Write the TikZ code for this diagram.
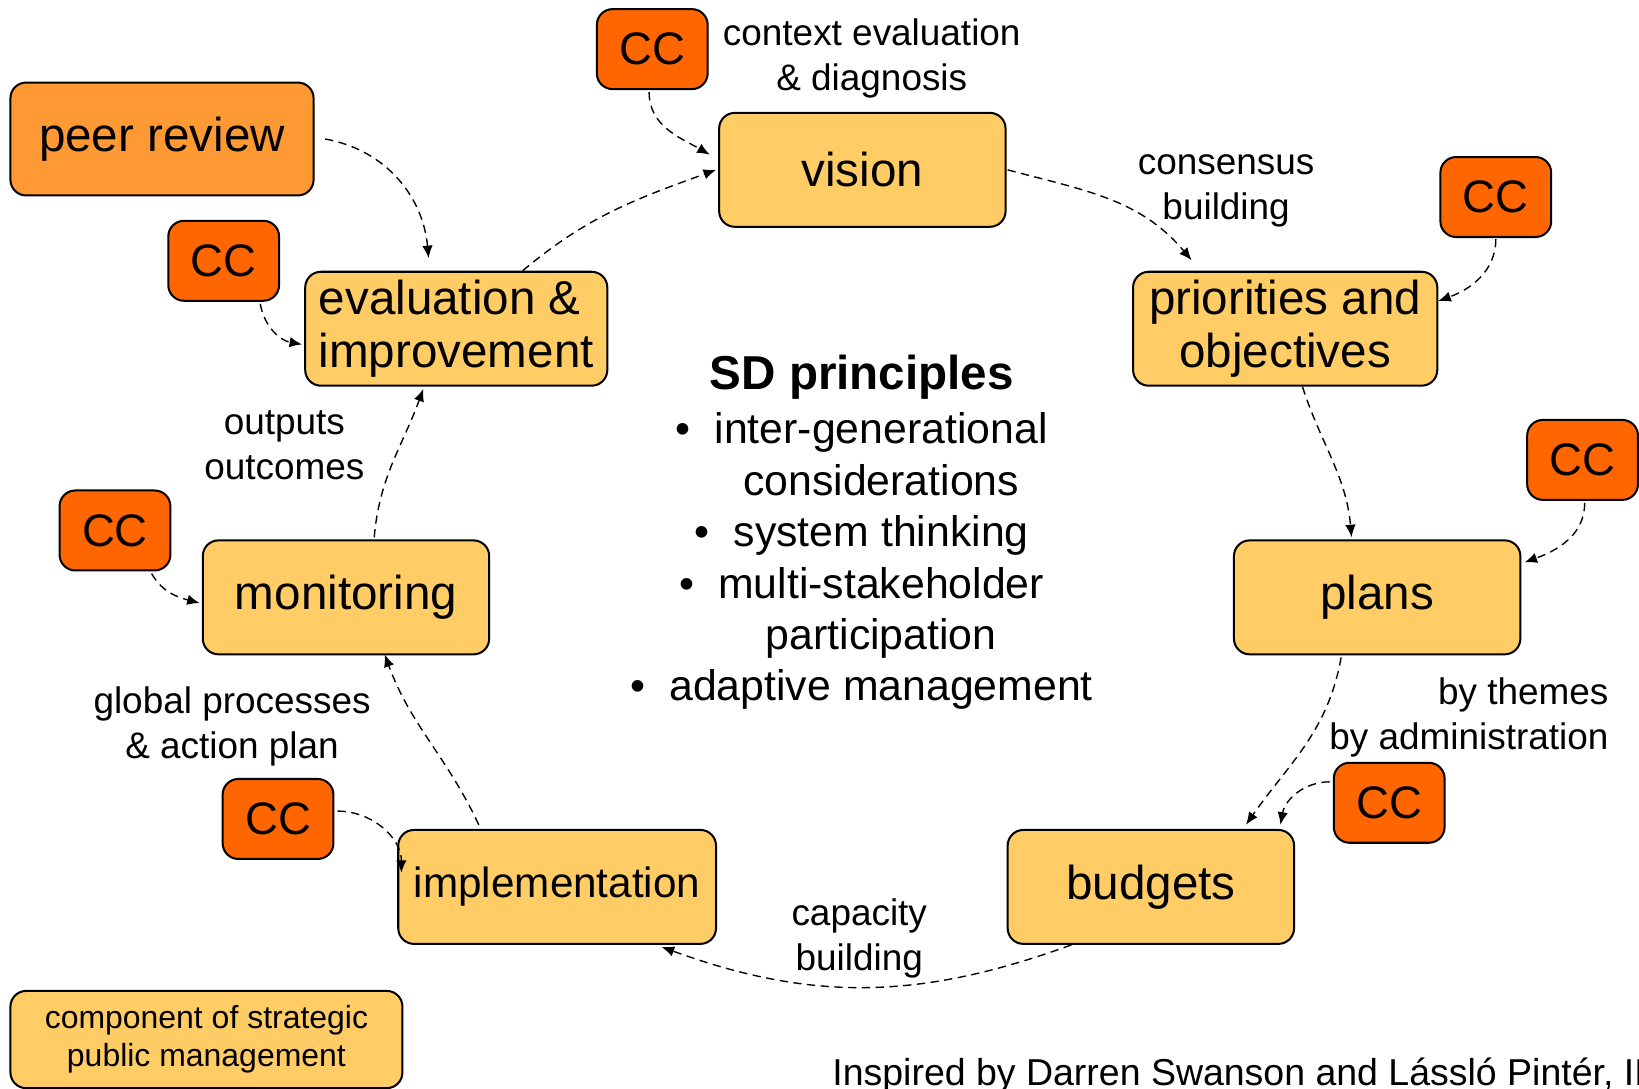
\documentclass[tikz,border=0pt]{standalone}
\usepackage{fontspec}
\setmainfont{Liberation Sans}
\usetikzlibrary{arrows.meta}

\definecolor{boxfill}{HTML}{FFCC66}
\definecolor{ccfill}{HTML}{FF6600}
\definecolor{peerfill}{HTML}{FF9933}

\begin{document}
\begin{tikzpicture}[
  block/.style = {
    draw,
    shape=rectangle,
    rounded corners=0.3cm,
    line width=1.1pt,
    minimum width=5.48cm,
    minimum height=2.18cm,
    inner sep=0.1cm,
    fill=boxfill,
    align=center,
    font=\fontsize{25.9}{28.45}\selectfont
  },
  ccblock/.style = {
    block,
    fill=ccfill,
    minimum width=2.12cm,
    minimum height=1.53cm,
    font=\fontsize{24.8}{28}\selectfont
  },
  remark/.style = {
    align=center,
    font=\fontsize{20.1}{24.5}\selectfont
  },
  link/.style = {
    ->,
    line width=0.75pt,
    dash pattern=on 4.5pt off 3pt
  },
  >={Latex[length=0.24cm,width=0.2cm]}
]
  \useasboundingbox (0,0) rectangle (31.36,20.82);

  \node (vision)[block] at (16.50,17.57) {vision};
  \node (priorities)[
    block,
    minimum width=5.82cm
  ] at (24.59,14.53) {priorities and\\objectives};
  \node (plans)[block] at (26.35,9.39) {plans};
  \node (budgets)[block] at (22.02,3.85) {budgets};
  \node (implementation)[
    block,
    minimum width=6.08cm,
    font=\fontsize{23}{27}\selectfont
  ] at (10.66,3.85) {implementation};
  \node (monitoring)[block] at (6.62,9.39) {monitoring};
  \node (evaluation)[
    block,
    minimum width=5.78cm,
    align=left
  ] at (8.73,14.53) {evaluation \&\\improvement};
  \node (peerreview)[
    block,
    fill=peerfill,
    minimum width=5.80cm,
    minimum height=2.16cm
  ] at (3.10,18.16) {peer review};

  \node (ccvision)[ccblock] at (12.48,19.88) {CC};
  \node (ccpriorities)[ccblock] at (28.62,17.05) {CC};
  \node (ccplans)[ccblock] at (30.28,12.02) {CC};
  \node (ccbudgets)[ccblock] at (26.58,5.46) {CC};
  \node (ccimplementation)[ccblock] at (5.32,5.15) {CC};
  \node (ccmonitoring)[ccblock] at (2.20,10.67) {CC};
  \node (ccevaluation)[ccblock] at (4.28,15.83) {CC};

  \node (legend)[
    block,
    minimum width=7.50cm,
    minimum height=1.86cm,
    font=\fontsize{17.4}{20.5}\selectfont
  ] at (3.95,0.93) {component of strategic\\public management};

  \node (sdtitle)[
    font=\bfseries\fontsize{25.9}{30}\selectfont
  ] at (16.49,13.60) {SD principles};
  \node (sdlist)[
    align=center,
    font=\fontsize{23.3}{28}\selectfont
  ] at (16.86,10.08) {\llap{\textbullet\hspace{0.46cm}}inter-generational\\
    considerations\\
    \llap{\textbullet\hspace{0.46cm}}system thinking\\
    \llap{\textbullet\hspace{0.46cm}}multi-stakeholder\\
    participation\\
    \llap{\textbullet\hspace{0.46cm}}adaptive management};

  \node (context)[remark] at (16.68,19.70) {context evaluation\\\& diagnosis};
  \node (consensus)[remark] at (23.46,17.16) {consensus\\building};
  \node (themes)[
    remark,
    align=right,
    anchor=east
  ] at (30.90,7.10) {by themes\\by administration};
  \node (capacity)[remark] at (16.44,2.86) {capacity\\building};
  \node (global)[remark] at (4.44,6.92) {global processes\\\& action plan};
  \node (outputs)[remark] at (5.44,12.30) {outputs\\outcomes};
  \node (inspired)[
    remark,
    anchor=base west,
    inner sep=0pt,
    font=\fontsize{20.4}{24.5}\selectfont
  ] at (15.92,0.06) {Inspired by Darren Swanson and Lássló Pintér, II};

  % main cycle
  \draw[link] ([xshift=0.02cm]vision.east) to[out=-15,in=130] ([xshift=-1.79cm,yshift=0.2cm]priorities.north);
  \draw[link] ([xshift=0.33cm]priorities.south) to[out=-72,in=95] ([xshift=-0.49cm,yshift=0.04cm]plans.north);
  \draw[link] ([xshift=-0.69cm,yshift=-0.04cm]plans.south) to[out=-100,in=55] ([xshift=1.82cm,yshift=0.08cm]budgets.north);
  \draw[link] ([xshift=-1.52cm]budgets.south) to[out=-160,in=-20] ([xshift=2.0cm,yshift=-0.04cm]implementation.south);
  \draw[link] ([xshift=-1.5cm,yshift=0.08cm]implementation.north) to[out=115,in=-70] ([xshift=0.74cm,yshift=0.02cm]monitoring.south);
  \draw[link] ([xshift=0.54cm,yshift=0.04cm]monitoring.north) to[out=85,in=-110] ([xshift=-0.63cm,yshift=-0.04cm]evaluation.south);
  \draw[link] ([xshift=1.27cm]evaluation.north) to[out=40,in=200] ([xshift=-0.04cm]vision.west);
  \draw[link] ([xshift=0.2cm]peerreview.east) to[out=-10,in=95] ([xshift=-0.53cm,yshift=0.24cm]evaluation.north);

  % CC inputs
  \draw[link] ([xshift=-0.06cm,yshift=-0.04cm]ccvision.south) to[out=-90,in=150] ([xshift=-0.16cm,yshift=0.29cm]vision.west);
  \draw[link] ([yshift=-0.02cm]ccpriorities.south) to[out=-90,in=20] ([yshift=0.53cm]priorities.east);
  \draw[link] ([xshift=0.04cm,yshift=-0.04cm]ccplans.south) to[out=-90,in=20] ([xshift=0.06cm,yshift=0.67cm]plans.east);
  \draw[link] ([xshift=-0.06cm,yshift=0.4cm]ccbudgets.west) to[out=180,in=80] ([xshift=2.48cm,yshift=0.08cm]budgets.north);
  \draw[link] ([xshift=0.06cm,yshift=0.15cm]ccimplementation.east) to[out=0,in=90] ([xshift=0.08cm,yshift=0.27cm]implementation.west);
  \draw[link] ([xshift=0.7cm,yshift=-0.04cm]ccmonitoring.south) to[out=-60,in=165] ([xshift=-0.04cm,yshift=-0.11cm]monitoring.west);
  \draw[link] ([xshift=0.7cm,yshift=-0.04cm]ccevaluation.south) to[out=-80,in=170] ([xshift=-0.04cm,yshift=-0.3cm]evaluation.west);
\end{tikzpicture}
\end{document}
